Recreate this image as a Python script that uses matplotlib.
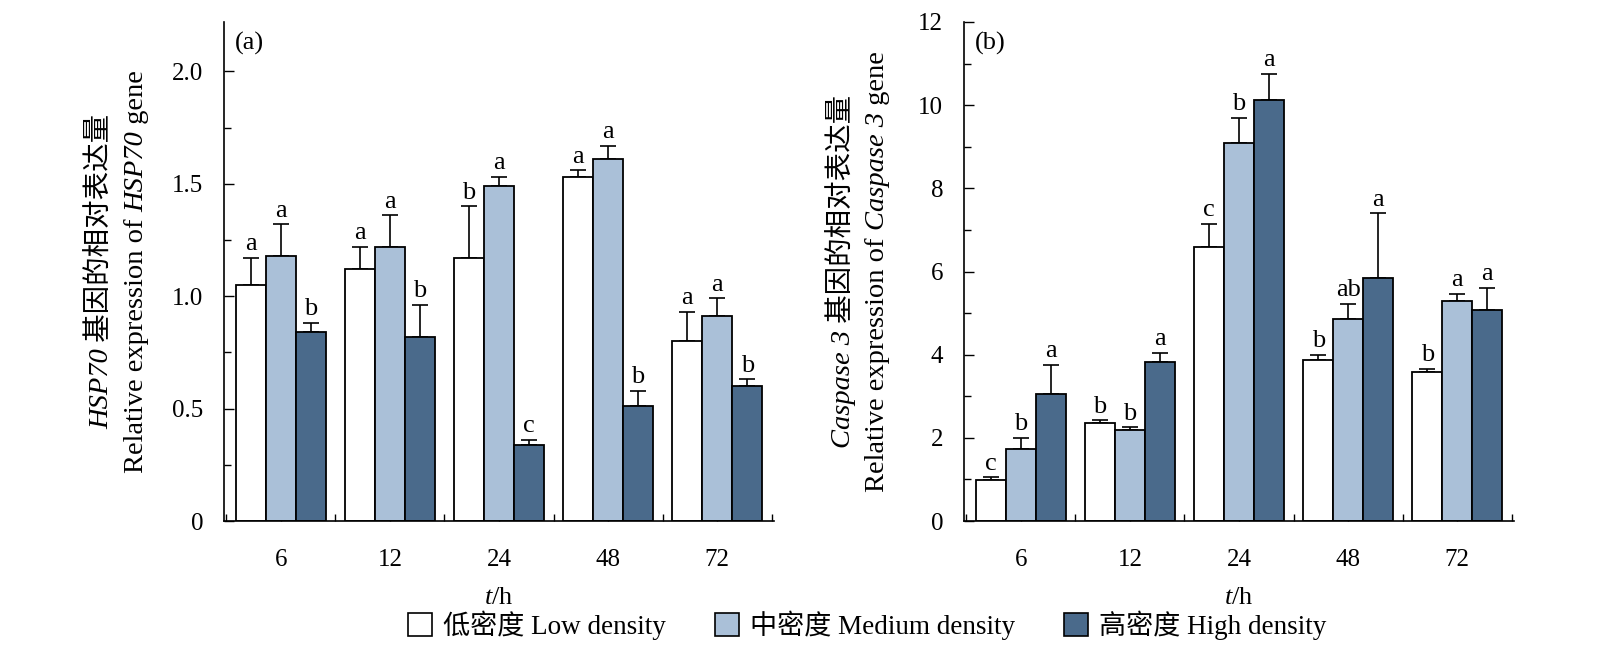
import numpy as np
import matplotlib
matplotlib.use("Agg")
import matplotlib.pyplot as plt
from matplotlib.patches import Patch
from matplotlib.ticker import MultipleLocator

plt.rcParams['font.family'] = ['Liberation Serif', 'Noto Sans CJK SC']
plt.rcParams['mathtext.fontset'] = 'custom'
plt.rcParams['mathtext.rm'] = 'Liberation Serif'
plt.rcParams['mathtext.it'] = 'Liberation Serif:italic'
plt.rcParams['font.size'] = 18

times = ['6', '12', '24', '48', '72']
groups = ['低密度 Low density', '中密度 Medium density', '高密度 High density']
colors = ['#FFFFFF', '#AAC0D8', '#4A6A8B']

# HSP70 relative expression (low, medium, high density)
hsp_low = [1.05, 1.12, 1.17, 1.53, 0.80]
hsp_med = [1.18, 1.22, 1.49, 1.61, 0.91]
hsp_high = [0.84, 0.82, 0.34, 0.51, 0.60]
hsp_low_err = [0.12, 0.10, 0.23, 0.03, 0.13]
hsp_med_err = [0.14, 0.14, 0.04, 0.06, 0.08]
hsp_high_err = [0.04, 0.14, 0.02, 0.07, 0.03]
hsp_low_sig = ['a', 'a', 'b', 'a', 'a']
hsp_med_sig = ['a', 'a', 'a', 'a', 'a']
hsp_high_sig = ['b', 'b', 'c', 'b', 'b']

# Caspase 3 relative expression
casp_low = [0.98, 2.35, 6.58, 3.87, 3.58]
casp_med = [1.72, 2.18, 9.10, 4.85, 5.28]
casp_high = [3.05, 3.82, 10.13, 5.85, 5.07]
casp_low_err = [0.07, 0.07, 0.57, 0.13, 0.08]
casp_med_err = [0.28, 0.07, 0.60, 0.38, 0.18]
casp_high_err = [0.70, 0.23, 0.63, 1.55, 0.53]
casp_low_sig = ['c', 'b', 'c', 'b', 'b']
casp_med_sig = ['b', 'b', 'b', 'ab', 'a']
casp_high_sig = ['a', 'a', 'a', 'a', 'a']

W, H = 1600, 650
fig = plt.figure(figsize=(16, 6.5), dpi=100)
ax1 = fig.add_axes([224 / W, 1 - 521 / H, 550 / W, 499 / H])
ax2 = fig.add_axes([964 / W, 1 - 521 / H, 550 / W, 499 / H])

x = np.arange(len(times))
bw = 0.274


def draw_panel(ax, vals, errs, sigs, ymax, major, minor, fmt):
    for i in range(3):
        xs = x + (i - 1) * bw
        ax.bar(xs, vals[i], bw, color=colors[i], edgecolor='black', linewidth=1.3, zorder=2)
        ax.errorbar(xs, vals[i], yerr=[np.zeros(len(x)), errs[i]], fmt='none',
                    ecolor='black', elinewidth=1.2, capsize=6, capthick=1.2, zorder=1)
        for xx, v, e, s in zip(xs, vals[i], errs[i], sigs[i]):
            ax.annotate(s, (xx, v + e), xytext=(0, 2), textcoords='offset points',
                        ha='center', va='bottom', fontsize=19)
    ax.set_xlim(-0.52, 4.52)
    ax.set_ylim(0, ymax)
    ax.set_xticks(x)
    ax.set_xticklabels(times)
    ax.set_xticks(np.arange(-0.5, 5, 1), minor=True)
    ax.yaxis.set_major_locator(MultipleLocator(major))
    ax.yaxis.set_minor_locator(MultipleLocator(minor))
    ax.yaxis.set_major_formatter(fmt)
    ax.spines['top'].set_visible(False)
    ax.spines['right'].set_visible(False)
    ax.spines['left'].set_linewidth(1.2)
    ax.spines['bottom'].set_linewidth(1.2)
    ax.tick_params(axis='both', which='both', direction='in', width=1.0)
    ax.tick_params(axis='y', which='major', length=7, pad=15, labelsize=18)
    ax.tick_params(axis='y', which='minor', length=5)
    ax.tick_params(axis='x', which='major', length=5, pad=20, labelsize=18)
    ax.tick_params(axis='x', which='minor', length=5)
    ax.set_xlabel('$t$/h', fontsize=19, labelpad=12)


def fmt_hsp(v, pos):
    return '0' if v == 0 else '%.1f' % v


def fmt_casp(v, pos):
    return '%d' % v


draw_panel(ax1, [hsp_low, hsp_med, hsp_high], [hsp_low_err, hsp_med_err, hsp_high_err],
           [hsp_low_sig, hsp_med_sig, hsp_high_sig], 2.22, 0.5, 0.25, fmt_hsp)
draw_panel(ax2, [casp_low, casp_med, casp_high], [casp_low_err, casp_med_err, casp_high_err],
           [casp_low_sig, casp_med_sig, casp_high_sig], 12, 2, 1, fmt_casp)

ax1.text(0.02, 0.98, '(a)', transform=ax1.transAxes, ha='left', va='top', fontsize=19)
ax2.text(0.02, 0.98, '(b)', transform=ax2.transAxes, ha='left', va='top', fontsize=19)


def stacked_label(xpix, ycen, pieces, size=20.5):
    r = fig.canvas.get_renderer()
    texts, heights = [], []
    for s, style in pieces:
        t = fig.text(xpix / W, 0, s, rotation=90, rotation_mode='anchor',
                     ha='left', va='baseline', fontsize=size, style=style)
        texts.append(t)
        heights.append(t.get_window_extent(r).height)
    y = ycen - sum(heights) / 2
    for t, h in zip(texts, heights):
        t.set_y(y / H)
        y += h


ycen = H - (22 + 521) / 2
stacked_label(108, ycen, [('HSP70', 'italic'), (' 基因的相对表达量', 'normal')])
stacked_label(143, ycen, [('Relative expression of ', 'normal'), ('HSP70', 'italic'), (' gene', 'normal')])
stacked_label(850, ycen, [('Caspase 3', 'italic'), (' 基因的相对表达量', 'normal')])
stacked_label(884, ycen, [('Relative expression of ', 'normal'), ('Caspase 3', 'italic'), (' gene', 'normal')])

handles = [Patch(facecolor=c, edgecolor='black', linewidth=1.2) for c in colors]
fig.legend(handles, groups, loc='center', bbox_to_anchor=(867 / W, 1 - 625 / H), ncol=3,
           frameon=False, fontsize=19.5, handlelength=0.9, handleheight=0.9,
           handletextpad=0.4, columnspacing=1.8)

fig.savefig('out.png', dpi=100)
